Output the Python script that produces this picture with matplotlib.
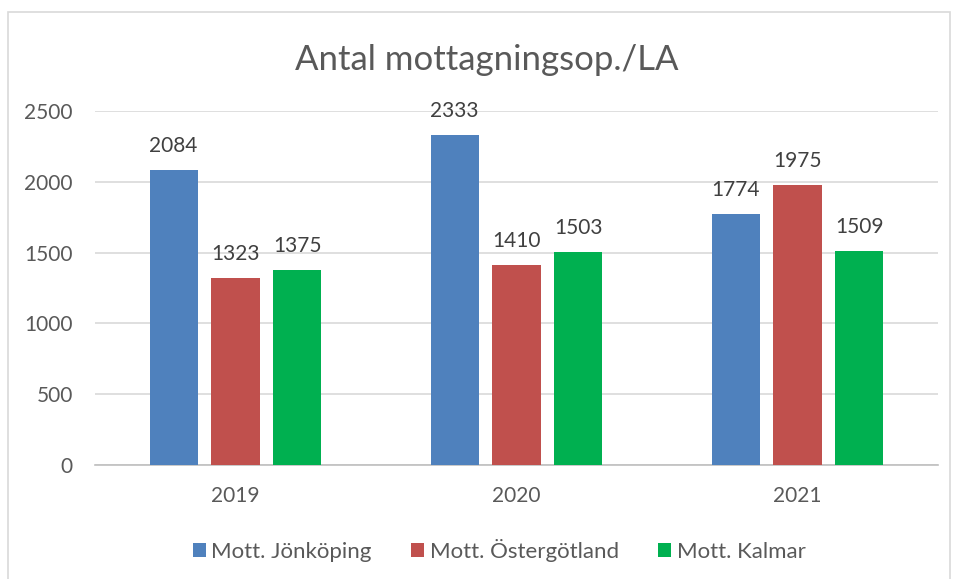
import numpy as np
import matplotlib.pyplot as plt
from matplotlib.patches import Rectangle

plt.rcParams['font.family'] = ['Lato', 'DejaVu Sans']

years = ['2019', '2020', '2021']
series = ['Mott. Jönköping', 'Mott. Östergötland', 'Mott. Kalmar']
jonkoping = [2084, 2333, 1774]
ostergotland = [1323, 1410, 1975]
kalmar = [1375, 1503, 1509]
colors = ['#4F81BD', '#C0504D', '#00B050']

fig = plt.figure(figsize=(9.55, 5.79), dpi=100)
ax = fig.add_axes([95/955, 1-465/579, 843/955, (465-111)/579])

# ram runt diagrammet
fig.patches.append(Rectangle((8/955, -0.02), 942/955, 1-12/579+0.02,
                             transform=fig.transFigure, fill=False,
                             edgecolor='#D9D9D9', lw=1.2))

x = np.arange(len(years))
w = 0.171
step = 0.22
for i, (vals, name) in enumerate(zip([jonkoping, ostergotland, kalmar], series)):
    bars = ax.bar(x + (i-1)*step, vals, w, color=colors[i], label=name, zorder=3)
    for b, v in zip(bars, vals):
        ax.annotate(str(v), (b.get_x() + b.get_width()/2, v), xytext=(0, 10),
                    textcoords='offset points', ha='center', va='bottom',
                    fontsize=15, color='#404040')

ax.set_ylim(0, 2500)
ax.set_xlim(-0.5, 2.5)
ax.set_yticks(np.arange(0, 2501, 500))
ax.set_xticks(x)
ax.set_xticklabels(years)
ax.yaxis.grid(True, color='#D9D9D9', lw=1.2, zorder=0)
for s in ['top', 'right', 'left']:
    ax.spines[s].set_visible(False)
ax.spines['bottom'].set_color('#BFBFBF')
ax.spines['bottom'].set_linewidth(1.2)
ax.tick_params(axis='both', length=0, labelsize=15, labelcolor='#595959')
ax.tick_params(axis='y', pad=16)
ax.tick_params(axis='x', pad=15)

fig.text(487/955, 1-60/579, 'Antal mottagningsop./LA', ha='center', va='center',
         fontsize=25, color='#595959')

ax.legend(loc='center', bbox_to_anchor=(499/955, 1-550/579), bbox_transform=fig.transFigure,
          ncol=3, frameon=False, fontsize=16, labelcolor='#595959',
          handlelength=0.6, handleheight=0.6, handletextpad=0.25, columnspacing=1.75)

plt.savefig('out.png')
